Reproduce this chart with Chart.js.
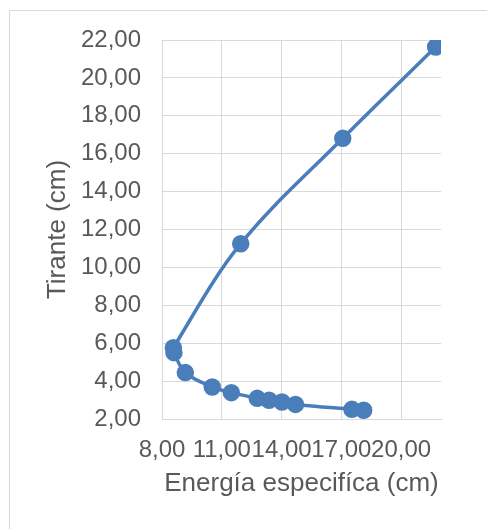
<!DOCTYPE html>
<html>
<head>
<meta charset="utf-8">
<script src="https://cdn.jsdelivr.net/npm/chart.js@4"></script>
<style>
  html, body { margin: 0; padding: 0; background: #fff; }
  #wrap { width: 487px; height: 529px; position: relative; }
</style>
</head>
<body>
<div id="wrap"><canvas id="chart" width="487" height="529"></canvas></div>
<script>
// values
const energia = [21.73, 17.07, 11.95, 8.57, 8.60, 9.17, 10.52, 11.48, 12.78, 13.37, 14.02, 14.70, 17.53, 18.12];
const tirante = [21.63, 16.81, 11.25, 5.76, 5.50, 4.45, 3.69, 3.39, 3.09, 2.99, 2.90, 2.77, 2.51, 2.46];
const xTicks = [8, 11, 14, 17, 20];
const yTicks = [2, 4, 6, 8, 10, 12, 14, 16, 18, 20, 22];

const points = energia.map((x, i) => ({ x, y: tirante[i] }));
const fmt = v => Number(v).toFixed(2).replace('.', ',');
const textColor = '#595959';
const gridColor = '#d9d9d9';

// outer chart frame, like the spreadsheet chart border
const framePlugin = {
  id: 'frame',
  beforeDraw(chart) {
    const ctx = chart.ctx;
    ctx.save();
    ctx.fillStyle = '#fff';
    ctx.fillRect(0, 0, chart.width, chart.height);
    ctx.strokeStyle = gridColor;
    ctx.lineWidth = 1;
    ctx.strokeRect(9.5, 10.5, 1000, 1000);
    ctx.restore();
  }
};

new Chart(document.getElementById('chart'), {
  type: 'scatter',
  data: {
    datasets: [{
      data: points,
      showLine: true,
      borderColor: '#4a7ebb',
      backgroundColor: '#4a7ebb',
      borderWidth: 3.5,
      pointRadius: 7,
      pointHoverRadius: 7,
      tension: 0.35
    }]
  },
  options: {
    responsive: false,
    animation: false,
    layout: { padding: { left: 0, top: 40, right: 46, bottom: 0 } },
    plugins: { legend: { display: false }, tooltip: { enabled: false } },
    scales: {
      x: {
        min: 8,
        max: 22,
        afterFit: s => { s.height = 110; },
        afterBuildTicks: s => { s.ticks = xTicks.map(value => ({ value })); },
        grid: { color: gridColor, drawTicks: false },
        border: { color: gridColor },
        ticks: {
          autoSkip: false,
          maxRotation: 0,
          padding: 17,
          color: textColor,
          font: { family: 'Liberation Sans', size: 24 },
          callback: fmt
        },
        title: {
          display: true,
          text: 'Energía especifíca (cm)',
          color: textColor,
          font: { family: 'Liberation Sans', size: 26 },
          padding: { top: 0, bottom: 30 }
        }
      },
      y: {
        min: 2,
        max: 22,
        afterFit: s => { s.width = 162; },
        afterBuildTicks: s => { s.ticks = yTicks.map(value => ({ value })); },
        grid: { color: gridColor, drawTicks: false },
        border: { color: gridColor },
        ticks: {
          padding: 21,
          color: textColor,
          font: { family: 'Liberation Sans', size: 24 },
          callback: fmt
        },
        title: {
          display: true,
          text: 'Tirante (cm)',
          color: textColor,
          font: { family: 'Liberation Sans', size: 26 },
          padding: { top: 42, bottom: 0 }
        }
      }
    }
  },
  plugins: [framePlugin]
});
</script>
</body>
</html>
